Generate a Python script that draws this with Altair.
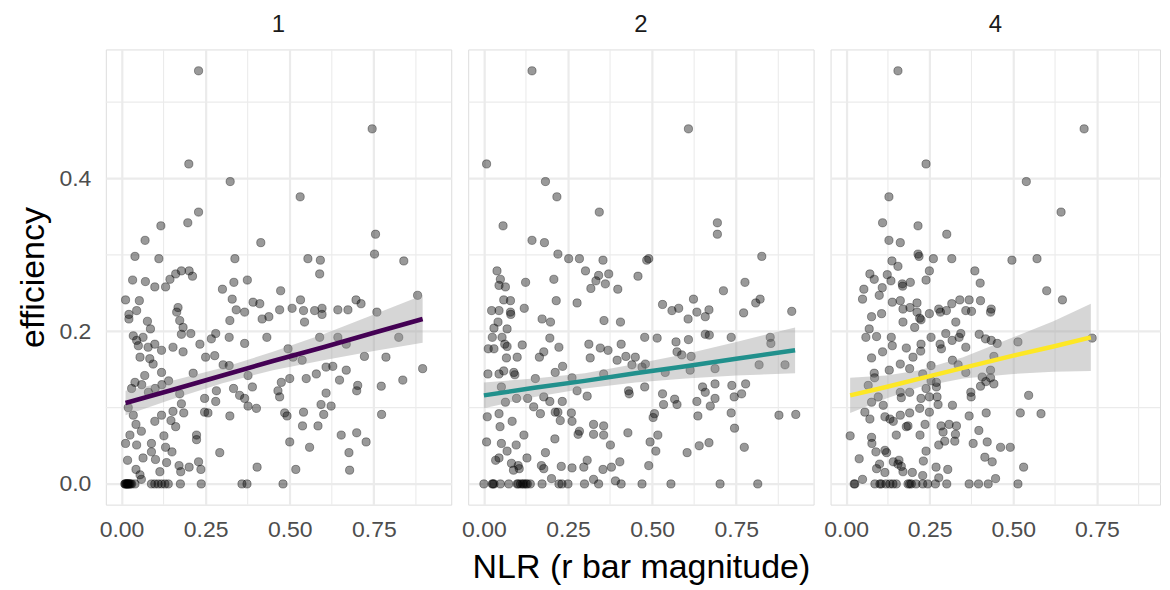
import altair as alt
import pandas as pd

panel_labels = ["1", "2", "4"]
line_colors = ["#440154", "#21908C", "#FDE725"]

# ---------------- panel "1" points ----------------
p1_x = [0.229, 0.745, 0.200, 0.323, 0.531, 0.229, 0.197, 0.117, 0.070, 0.414, 0.755, 0.752, 0.040, 0.111, 0.337, 0.554, 0.591, 0.839,
        0.589, 0.033, 0.071, 0.099, 0.131, 0.144, 0.161, 0.178, 0.201, 0.211, 0.300, 0.334, 0.374, 0.473, 0.012, 0.053, 0.045, 0.022,
        0.022, 0.077, 0.086, 0.168, 0.164, 0.173, 0.183, 0.178, 0.206, 0.329, 0.391, 0.411, 0.341, 0.366, 0.322, 0.418, 0.438, 0.470,
        0.507, 0.532, 0.541, 0.544, 0.574, 0.596, 0.596, 0.643, 0.673, 0.697, 0.712, 0.759, 0.880, 0.824, 0.035, 0.045, 0.050, 0.064,
        0.079, 0.099, 0.119, 0.055, 0.084, 0.094, 0.119, 0.069, 0.153, 0.183, 0.233, 0.267, 0.280, 0.320, 0.366, 0.432, 0.250, 0.277,
        0.213, 0.302, 0.320, 0.376, 0.495, 0.510, 0.537, 0.589, 0.643, 0.668, 0.608, 0.628, 0.668, 0.722, 0.786, 0.895, 0.579, 0.549,
        0.500, 0.475, 0.648, 0.702, 0.836, 0.040,
        0.173, 0.282, 0.333, 0.389, 0.465, 0.470, 0.351, 0.366, 0.247, 0.280, 0.376, 0.401, 0.178, 0.153, 0.185, 0.119, 0.099, 0.147,
        0.161, 0.247, 0.257, 0.322, 0.608, 0.699, 0.772, 0.593, 0.623, 0.601, 0.541, 0.485, 0.492, 0.773, 0.538, 0.584, 0.653, 0.699,
        0.727, 0.500, 0.559, 0.676, 0.678, 0.518, 0.403, 0.292, 0.223, 0.223, 0.126, 0.131, 0.150, 0.089, 0.089, 0.043, 0.059, 0.025,
        0.012, 0.045, 0.018, 0.064, 0.101, 0.134, 0.043, 0.114, 0.171, 0.176, 0.201, 0.229, 0.236, 0.055, 0.059,
        0.030, 0.060, 0.080, 0.100, 0.120, 0.140, 0.020, 0.035,
        0.010, 0.011, 0.013, 0.015, 0.017, 0.018, 0.020, 0.022, 0.024, 0.027, 0.030, 0.040, 0.089, 0.099, 0.109, 0.119, 0.129, 0.139,
        0.175, 0.237, 0.358, 0.373, 0.480]
p1_y = [0.541, 0.465, 0.419, 0.396, 0.376, 0.356, 0.342, 0.338, 0.319, 0.316, 0.327, 0.301, 0.298, 0.295, 0.295, 0.295, 0.293, 0.292,
        0.275, 0.267, 0.265, 0.258, 0.258, 0.268, 0.275, 0.279, 0.279, 0.272, 0.255, 0.264, 0.267, 0.253, 0.241, 0.240, 0.227, 0.222,
        0.216, 0.213, 0.203, 0.231, 0.225, 0.214, 0.205, 0.196, 0.197, 0.242, 0.238, 0.236, 0.228, 0.225, 0.214, 0.216, 0.219, 0.228,
        0.230, 0.241, 0.227, 0.212, 0.227, 0.230, 0.222, 0.228, 0.228, 0.241, 0.236, 0.225, 0.247, 0.192, 0.194, 0.188, 0.181, 0.192,
        0.179, 0.183, 0.175, 0.166, 0.164, 0.157, 0.146, 0.142, 0.179, 0.173, 0.183, 0.190, 0.197, 0.192, 0.184, 0.192, 0.166, 0.168,
        0.145, 0.156, 0.155, 0.142, 0.177, 0.166, 0.162, 0.192, 0.192, 0.183, 0.153, 0.154, 0.149, 0.167, 0.166, 0.151, 0.144, 0.138,
        0.138, 0.133, 0.136, 0.129, 0.136, 0.133,
        0.118, 0.122, 0.125, 0.127, 0.122, 0.114, 0.116, 0.112, 0.112, 0.108, 0.102, 0.099, 0.105, 0.095, 0.093, 0.090, 0.082, 0.083,
        0.075, 0.094, 0.093, 0.089, 0.119, 0.122, 0.128, 0.104, 0.102, 0.091, 0.094, 0.093, 0.089, 0.091, 0.076, 0.076, 0.064, 0.067,
        0.055, 0.055, 0.048, 0.041, 0.018, 0.019, 0.022, 0.041, 0.064, 0.058, 0.063, 0.048, 0.042, 0.053, 0.042, 0.078, 0.069, 0.064,
        0.053, 0.051, 0.031, 0.034, 0.032, 0.028, 0.019, 0.016, 0.024, 0.016, 0.022, 0.029, 0.019, 0.012, 0.006,
        0.125, 0.130, 0.120, 0.125, 0.130, 0.135, 0.100, 0.090,
        0.0, 0.0, 0.0, 0.0, 0.0, 0.0, 0.0, 0.0, 0.0, 0.0, 0.0, 0.0, 0.0, 0.0, 0.0, 0.0, 0.0, 0.0,
        0.0, 0.0, 0.0, 0.0, 0.0]

# ---------------- panel "2" points ----------------
p2_x = [0.143, 0.608, 0.008, 0.183, 0.217, 0.343, 0.057, 0.143, 0.180, 0.694, 0.694, 0.220, 0.252, 0.284, 0.354, 0.490, 0.484, 0.826,
        0.039, 0.049, 0.045, 0.064, 0.124, 0.208, 0.302, 0.341, 0.371, 0.333, 0.361, 0.318, 0.398, 0.458, 0.776, 0.712, 0.059, 0.079,
        0.023, 0.045, 0.079, 0.080, 0.120, 0.215, 0.277, 0.531, 0.559, 0.579, 0.623, 0.633, 0.669, 0.658, 0.607, 0.772, 0.808, 0.821,
        0.915, 0.173, 0.198, 0.357, 0.406, 0.042, 0.030, 0.069, 0.025, 0.054, 0.062, 0.069, 0.013, 0.030, 0.114, 0.196, 0.223, 0.178,
        0.165, 0.099, 0.067, 0.312, 0.346, 0.369, 0.408, 0.316, 0.396, 0.422, 0.450, 0.440, 0.478, 0.515, 0.571, 0.608, 0.658, 0.670,
        0.735, 0.851, 0.853, 0.574, 0.588, 0.616, 0.480, 0.470, 0.539, 0.613, 0.687, 0.818, 0.895, 0.012, 0.045, 0.059, 0.089, 0.092,
        0.153, 0.212, 0.234, 0.262, 0.356,
        0.052, 0.478, 0.430, 0.432, 0.277, 0.307, 0.650, 0.687, 0.737, 0.778, 0.658, 0.633, 0.687, 0.673, 0.744, 0.766, 0.531, 0.567,
        0.574, 0.534, 0.507, 0.503, 0.636, 0.735, 0.745, 0.877, 0.927, 0.064, 0.097, 0.130, 0.148, 0.178, 0.196, 0.233, 0.168, 0.212,
        0.220, 0.260, 0.227, 0.262, 0.010, 0.045, 0.048, 0.084, 0.119, 0.008, 0.052, 0.096, 0.069, 0.211, 0.183, 0.284, 0.280, 0.326,
        0.356, 0.326, 0.356, 0.376, 0.428, 0.517, 0.494, 0.511, 0.640, 0.669, 0.604, 0.774, 0.490, 0.035, 0.045, 0.082, 0.088, 0.102,
        0.128, 0.105, 0.171, 0.178, 0.201, 0.230, 0.262, 0.297, 0.307, 0.354, 0.379, 0.404, 0.326, 0.391,
        0.000, 0.025, 0.027, 0.030, 0.049, 0.074, 0.099, 0.102, 0.109, 0.115, 0.119, 0.125, 0.129, 0.138, 0.173, 0.223, 0.232, 0.250,
        0.299, 0.341, 0.408, 0.470, 0.556, 0.702, 0.814]
p2_y = [0.541, 0.465, 0.419, 0.396, 0.376, 0.356, 0.338, 0.319, 0.316, 0.342, 0.327, 0.301, 0.295, 0.295, 0.293, 0.295, 0.293, 0.298,
        0.279, 0.268, 0.260, 0.258, 0.264, 0.268, 0.279, 0.273, 0.275, 0.266, 0.262, 0.256, 0.255, 0.272, 0.264, 0.253, 0.241, 0.240,
        0.227, 0.227, 0.225, 0.222, 0.230, 0.240, 0.237, 0.235, 0.227, 0.230, 0.242, 0.225, 0.228, 0.219, 0.216, 0.224, 0.237, 0.242,
        0.226, 0.216, 0.212, 0.214, 0.212, 0.212, 0.204, 0.203, 0.192, 0.192, 0.183, 0.180, 0.177, 0.177, 0.182, 0.191, 0.179, 0.173,
        0.166, 0.166, 0.165, 0.183, 0.178, 0.175, 0.183, 0.165, 0.162, 0.167, 0.166, 0.156, 0.192, 0.191, 0.186, 0.189, 0.196, 0.195,
        0.192, 0.192, 0.184, 0.173, 0.169, 0.167, 0.157, 0.153, 0.146, 0.149, 0.151, 0.156, 0.156, 0.144, 0.144, 0.148, 0.146, 0.143,
        0.138, 0.146, 0.154, 0.139, 0.144,
        0.127, 0.127, 0.122, 0.118, 0.122, 0.115, 0.127, 0.131, 0.129, 0.131, 0.120, 0.108, 0.112, 0.102, 0.114, 0.118, 0.118, 0.111,
        0.104, 0.104, 0.092, 0.087, 0.089, 0.093, 0.073, 0.090, 0.091, 0.107, 0.112, 0.112, 0.101, 0.114, 0.108, 0.108, 0.092, 0.094,
        0.094, 0.093, 0.083, 0.082, 0.088, 0.092, 0.075, 0.082, 0.064, 0.055, 0.053, 0.051, 0.043, 0.059, 0.041, 0.069, 0.065, 0.078,
        0.076, 0.065, 0.064, 0.051, 0.067, 0.064, 0.055, 0.043, 0.050, 0.054, 0.041, 0.048, 0.024, 0.031, 0.034, 0.027, 0.018, 0.024,
        0.034, 0.020, 0.024, 0.020, 0.007, 0.023, 0.021, 0.022, 0.031, 0.019, 0.022, 0.029, 0.006, 0.004,
        0.0, 0.0, 0.0, 0.0, 0.0, 0.0, 0.0, 0.0, 0.0, 0.0, 0.0, 0.0, 0.0, 0.0, 0.0, 0.0, 0.0, 0.0,
        0.0, 0.0, 0.0, 0.0, 0.0, 0.0, 0.0]

# ---------------- panel "4" points ----------------
p3_x = [0.155, 0.712, 0.239, 0.539, 0.128, 0.643, 0.109, 0.215, 0.301, 0.128, 0.162, 0.215, 0.218, 0.137, 0.261, 0.316, 0.496, 0.571,
        0.155, 0.249, 0.239, 0.385, 0.401, 0.071, 0.084, 0.123, 0.134, 0.168, 0.192, 0.169, 0.053, 0.049, 0.108, 0.099, 0.600, 0.647,
        0.138, 0.162, 0.170, 0.191, 0.212, 0.212, 0.076, 0.106, 0.170, 0.205, 0.220, 0.224, 0.249, 0.277, 0.282, 0.300, 0.316, 0.340,
        0.368, 0.402, 0.328, 0.358, 0.375, 0.432, 0.434, 0.069, 0.059, 0.091, 0.135, 0.138, 0.109, 0.076, 0.180, 0.200, 0.224, 0.223,
        0.254, 0.281, 0.285, 0.298, 0.317, 0.343, 0.338, 0.358, 0.398, 0.417, 0.434, 0.452, 0.514, 0.736, 0.442, 0.129, 0.162, 0.190,
        0.254, 0.318, 0.335, 0.358, 0.084, 0.085, 0.229, 0.254, 0.270, 0.407, 0.432, 0.432, 0.418,
        0.066, 0.096, 0.076, 0.111, 0.162, 0.165, 0.190, 0.224, 0.249, 0.239, 0.270, 0.272, 0.220, 0.249, 0.275, 0.318, 0.190, 0.162,
        0.116, 0.131, 0.141, 0.056, 0.071, 0.373, 0.374, 0.402, 0.442, 0.546, 0.521, 0.583, 0.368, 0.419, 0.012, 0.076, 0.077, 0.089,
        0.116, 0.121, 0.150, 0.180, 0.185, 0.221, 0.236, 0.284, 0.308, 0.330, 0.290, 0.327, 0.325, 0.295, 0.277, 0.397, 0.380, 0.422,
        0.462, 0.491, 0.239, 0.231, 0.415, 0.437, 0.039, 0.091, 0.100, 0.116, 0.141, 0.155, 0.165, 0.158, 0.170, 0.198, 0.229, 0.269,
        0.304, 0.277, 0.049, 0.447, 0.531,
        0.024, 0.026, 0.086, 0.101, 0.119, 0.131, 0.150, 0.185, 0.195, 0.209, 0.229, 0.244, 0.267, 0.301, 0.368, 0.396, 0.425, 0.514,
        0.105, 0.140, 0.190]
p3_y = [0.541, 0.465, 0.419, 0.396, 0.376, 0.356, 0.342, 0.338, 0.327, 0.319, 0.316, 0.301, 0.298, 0.292, 0.295, 0.295, 0.293, 0.295,
        0.285, 0.279, 0.267, 0.279, 0.263, 0.275, 0.268, 0.274, 0.266, 0.262, 0.264, 0.259, 0.255, 0.242, 0.257, 0.247, 0.253, 0.241,
        0.238, 0.240, 0.229, 0.231, 0.237, 0.225, 0.219, 0.223, 0.212, 0.205, 0.217, 0.215, 0.223, 0.229, 0.225, 0.227, 0.236, 0.241,
        0.241, 0.240, 0.212, 0.227, 0.226, 0.225, 0.229, 0.203, 0.192, 0.193, 0.192, 0.181, 0.173, 0.165, 0.178, 0.166, 0.183, 0.174,
        0.192, 0.183, 0.177, 0.197, 0.188, 0.197, 0.192, 0.179, 0.196, 0.190, 0.188, 0.184, 0.186, 0.191, 0.167, 0.149, 0.157, 0.151,
        0.155, 0.162, 0.156, 0.146, 0.145, 0.139, 0.144, 0.135, 0.133, 0.140, 0.149, 0.139, 0.134,
        0.129, 0.114, 0.107, 0.103, 0.120, 0.113, 0.120, 0.112, 0.114, 0.125, 0.127, 0.114, 0.099, 0.094, 0.104, 0.103, 0.093, 0.090,
        0.088, 0.085, 0.082, 0.094, 0.085, 0.120, 0.114, 0.128, 0.131, 0.116, 0.093, 0.092, 0.089, 0.093, 0.063, 0.061, 0.053, 0.042,
        0.044, 0.041, 0.064, 0.075, 0.076, 0.064, 0.078, 0.076, 0.078, 0.076, 0.068, 0.065, 0.056, 0.056, 0.051, 0.070, 0.053, 0.055,
        0.048, 0.048, 0.043, 0.030, 0.035, 0.029, 0.033, 0.020, 0.026, 0.015, 0.029, 0.026, 0.023, 0.031, 0.016, 0.015, 0.011, 0.022,
        0.019, 0.008, 0.006, 0.007, 0.022,
        0.0, 0.0, 0.0, 0.0, 0.0, 0.0, 0.0, 0.0, 0.0, 0.0, 0.0, 0.0, 0.0, 0.0, 0.0, 0.0, 0.0, 0.0,
        0.0, 0.0, 0.0]

# ---------------- fitted lines with confidence bands ----------------
f1_x = [0.012, 0.15, 0.30, 0.45, 0.60, 0.75, 0.895]
f1_fit = [0.106, 0.123, 0.142, 0.161, 0.179, 0.198, 0.216]
f1_lo = [0.090, 0.111, 0.132, 0.149, 0.162, 0.174, 0.185]
f1_hi = [0.122, 0.135, 0.152, 0.173, 0.196, 0.222, 0.247]

f2_x = [0.0, 0.15, 0.30, 0.45, 0.60, 0.75, 0.925]
f2_fit = [0.116, 0.126, 0.135, 0.145, 0.154, 0.164, 0.175]
f2_lo = [0.099, 0.114, 0.125, 0.133, 0.138, 0.142, 0.145]
f2_hi = [0.133, 0.138, 0.145, 0.157, 0.170, 0.186, 0.205]

f3_x = [0.012, 0.12, 0.22, 0.35, 0.50, 0.62, 0.732]
f3_fit = [0.116, 0.127, 0.138, 0.152, 0.168, 0.180, 0.192]
f3_lo = [0.093, 0.112, 0.127, 0.138, 0.144, 0.147, 0.148]
f3_hi = [0.139, 0.142, 0.149, 0.166, 0.192, 0.213, 0.236]

x_major = [0.0, 0.25, 0.5, 0.75]
x_minor = [0.125, 0.375, 0.625, 0.875]
y_major = [0.0, 0.2, 0.4]
y_minor = [0.1, 0.3, 0.5]

FONT = "Liberation Sans"
GRID = "#EBEBEB"
Y_DOMAIN = [-0.0271, 0.569]
X_LO = -0.0466


def panel(label, color, px, py, fx, ffit, flo, fhi, x_hi, width, first, middle):
    pts = pd.DataFrame({"x": px, "y": py})
    fit = pd.DataFrame({"x": fx, "fit": ffit, "lo": flo, "hi": fhi})
    xs = alt.Scale(domain=[X_LO, x_hi], nice=False, zero=False)
    ys = alt.Scale(domain=Y_DOMAIN, nice=False, zero=False)
    xaxis_kw = dict(values=x_major, format=".2f", grid=True, gridColor=GRID, gridWidth=2.2,
                    domain=False, ticks=False, labelFontSize=23, labelColor="#4D4D4D",
                    labelPadding=14, labelFont=FONT)
    if middle:
        xaxis = alt.Axis(title="NLR (r bar magnitude)", titleFontSize=34, titleFontWeight="normal",
                         titleColor="black", titleFont=FONT, titlePadding=9, **xaxis_kw)
    else:
        xaxis = alt.Axis(title=None, **xaxis_kw)
    yaxis_kw = dict(values=y_major, grid=True, gridColor=GRID, gridWidth=2.2, domain=False, ticks=False)
    if first:
        yaxis = alt.Axis(title="efficiency", format=".1f", labelFontSize=23, labelColor="#4D4D4D",
                         labelPadding=15, labelFont=FONT, titleFontSize=34, titleFontWeight="normal",
                         titleColor="black", titleFont=FONT, titlePadding=8, **yaxis_kw)
    else:
        yaxis = alt.Axis(title=None, labels=False, **yaxis_kw)

    X = alt.X("x:Q", scale=xs, axis=xaxis)
    Y = alt.Y("y:Q", scale=ys, axis=yaxis)

    minor_x = alt.Chart(pd.DataFrame({"x": x_minor})).mark_rule(color=GRID, strokeWidth=1.1).encode(x=X)
    minor_y = alt.Chart(pd.DataFrame({"y": y_minor})).mark_rule(color=GRID, strokeWidth=1.1).encode(y=Y)
    points = alt.Chart(pts).mark_circle(size=68, color="black", fillOpacity=0.4, stroke="black",
                                        strokeOpacity=0.4, strokeWidth=0.9).encode(x=X, y=Y)
    band = alt.Chart(fit).mark_area(color="#999999", opacity=0.4).encode(
        x=X, y=alt.Y("lo:Q", scale=ys, axis=yaxis), y2="hi:Q")
    line = alt.Chart(fit).mark_line(color=color, strokeWidth=4.5).encode(
        x=X, y=alt.Y("fit:Q", scale=ys, axis=yaxis))
    return alt.layer(minor_x, minor_y, points, band, line).properties(
        width=width, height=456,
        title=alt.TitleParams(text=label, fontSize=24, font=FONT, color="#1A1A1A",
                              fontWeight="normal", anchor="middle", offset=12))


c1 = panel(panel_labels[0], line_colors[0], p1_x, p1_y, f1_x, f1_fit, f1_lo, f1_hi, 0.98, 346, True, False)
c2 = panel(panel_labels[1], line_colors[1], p2_x, p2_y, f2_x, f2_fit, f2_lo, f2_hi, 0.98, 346, False, True)
c3 = panel(panel_labels[2], line_colors[2], p3_x, p3_y, f3_x, f3_fit, f3_lo, f3_hi, 0.939, 330, False, False)

chart = alt.hconcat(c1, c2, c3, spacing=17, bounds="flush").properties(
    padding={"left": 8, "top": 3, "right": 0, "bottom": 0}
).configure_view(stroke=None).configure(font=FONT, background="white")

chart.save("out.html", embed_options={"renderer": "svg", "actions": False})
